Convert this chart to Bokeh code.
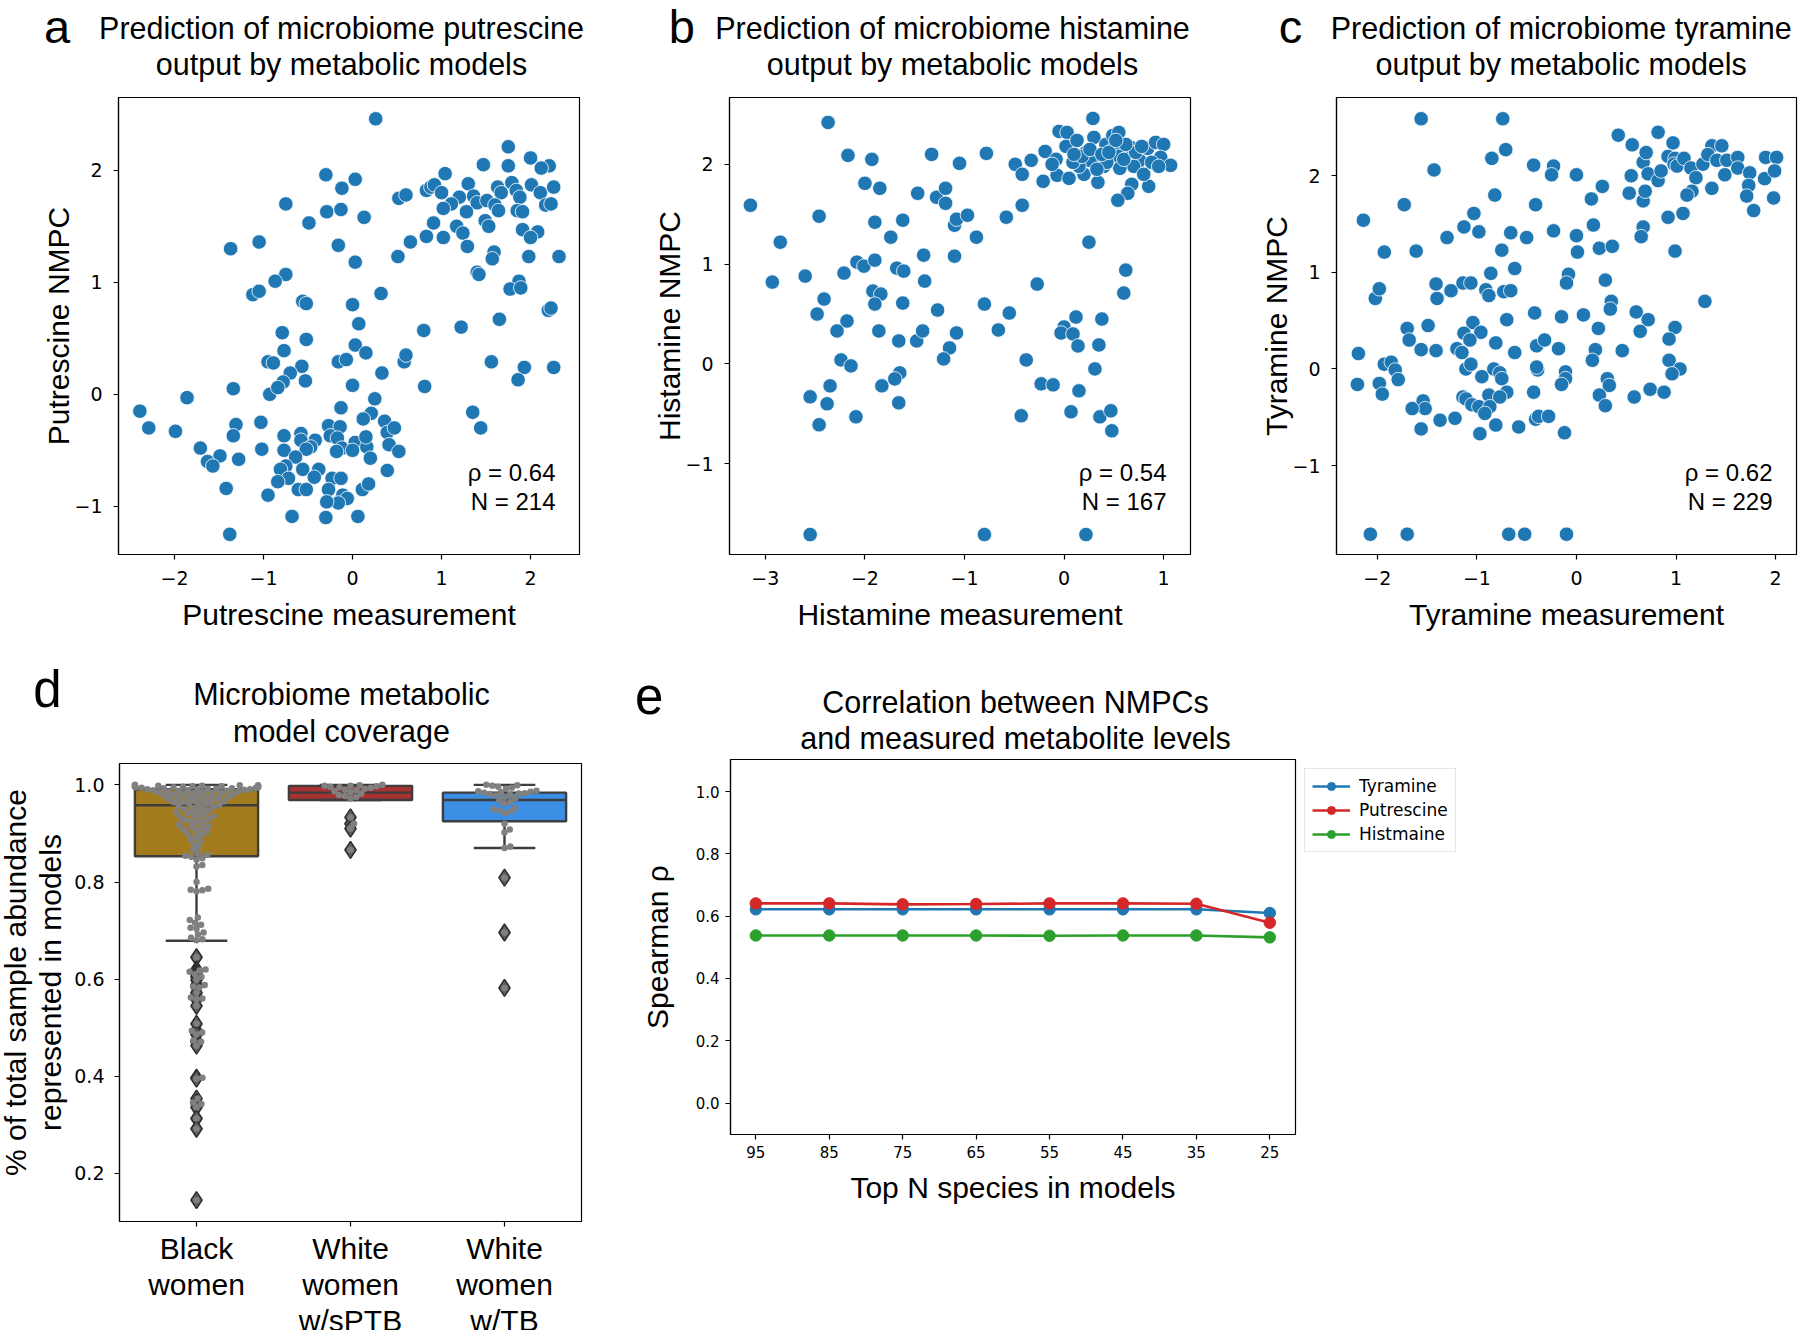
import math
from bokeh.plotting import figure
from bokeh.models import (Label, FixedTicker, Legend, LegendItem, Range1d,
                          PrintfTickFormatter, GlobalInlineStyleSheet)
from bokeh.layouts import row, column
from bokeh.embed import file_html
from bokeh.resources import INLINE

# ---------------- data ----------------
put_meas = [0.26, 1.75, 2.00, 2.21, 2.12, 1.47, -0.30, 0.03, 1.04, 1.75,
            -0.12, 1.30, 0.83, 0.88, 0.92, 1.00, 0.52, 0.60, 1.20, 1.36,
            1.63, 1.67, 1.79, 1.84, 2.01, 2.11, 2.26, 1.88, 1.11, 1.40,
            1.51, 1.60, 2.17, 2.23, -0.75, -0.29, -0.13, 0.13, -0.49, 1.02,
            1.28, 1.64, 1.85, 1.91, 0.91, 1.17, 1.49, 1.24, 1.53, 1.91,
            2.08, 2.00, 0.83, 1.02, 0.65, -1.05, -0.16, 1.29, -1.37, 1.59,
            0.51, 1.57, 1.98, 2.32, 0.03, 1.40, 1.42, -0.75, -0.87, 1.87,
            -1.12, -1.05, 0.32, 1.77, 1.89, 0.00, -0.56, -0.52, 2.20, 2.23,
            0.07, 1.65, -0.79, -0.52, 0.80, 1.22, -0.77, 0.03, 0.15, -0.95,
            -0.89, -0.57, -0.16, -0.07, 0.58, 0.60, -0.70, 0.33, 1.56, 1.93,
            2.26, 1.86, -0.78, -0.53, -1.34, -0.93, -0.84, 0.00, 0.81, -1.86,
            -2.39, -2.29, -1.99, 0.25, -0.13, 0.21, 0.12, 1.35, 1.44, -1.03,
            -1.31, -1.34, -0.27, -0.14, 0.36, 0.39, 0.47, -1.71, -1.49, -1.63,
            -1.57, -1.28, -1.02, -0.77, -0.58, -0.42, -0.58, -0.77, -0.47, -0.52,
            -0.64, -0.75, -0.81, -0.72, -0.84, -0.56, -0.38, -0.43, -0.25, -0.17,
            0.03, -0.12, -0.18, 0.00, 0.16, 0.15, 0.41, 0.52, 0.20, 0.39,
            -0.23, -0.13, -0.27, -0.61, -0.52, 0.11, 0.18, -0.11, -0.06, -0.16,
            -0.29, -0.95, -1.42, -0.68, -0.30, 0.06, -1.38]
put_nmpc = [2.46, 2.21, 2.11, 2.04, 2.02, 2.05, 1.96, 1.92, 1.97, 2.04,
            1.84, 1.88, 1.82, 1.85, 1.87, 1.80, 1.75, 1.78, 1.76, 1.77,
            1.85, 1.80, 1.89, 1.82, 1.87, 1.80, 1.85, 1.76, 1.70, 1.71,
            1.73, 1.69, 1.69, 1.70, 1.70, 1.63, 1.65, 1.58, 1.53, 1.66,
            1.63, 1.64, 1.64, 1.63, 1.53, 1.50, 1.55, 1.44, 1.50, 1.47,
            1.45, 1.40, 1.41, 1.40, 1.36, 1.36, 1.33, 1.32, 1.30, 1.27,
            1.23, 1.21, 1.23, 1.23, 1.18, 1.09, 1.07, 1.07, 1.01, 1.01,
            0.89, 0.92, 0.90, 0.94, 0.95, 0.80, 0.83, 0.81, 0.75, 0.77,
            0.63, 0.67, 0.55, 0.49, 0.57, 0.60, 0.39, 0.44, 0.37, 0.29,
            0.28, 0.25, 0.29, 0.31, 0.29, 0.35, 0.19, 0.19, 0.29, 0.24,
            0.24, 0.13, 0.11, 0.12, 0.05, 0.00, 0.06, 0.08, 0.07, -0.03,
            -0.15, -0.30, -0.33, -0.04, -0.12, -0.17, -0.22, -0.16, -0.30, -0.25,
            -0.27, -0.37, -0.28, -0.29, -0.24, -0.34, -0.30, -0.48, -0.55, -0.60,
            -0.64, -0.58, -0.49, -0.37, -0.35, -0.41, -0.41, -0.50, -0.47, -0.49,
            -0.56, -0.64, -0.67, -0.75, -0.78, -0.67, -0.67, -0.74, -0.37, -0.39,
            -0.43, -0.48, -0.51, -0.50, -0.47, -0.38, -0.45, -0.51, -0.57, -0.68,
            -0.75, -0.75, -0.85, -0.85, -0.85, -0.85, -0.80, -0.90, -0.93, -0.97,
            -0.96, -0.90, -0.84, -1.09, -1.10, -1.09, -1.25]

his_meas = [-2.37, -3.15, -2.46, -2.85, -2.93, -2.60, -2.41, -2.48, -2.17, -1.93,
            -2.00, -1.85, -1.90, -1.62, -1.74, -2.08, -2.01, -1.90, -2.21, -1.68,
            -1.61, -1.92, -1.84, -1.90, -1.62, -2.18, -2.28, -1.86, -2.24, -2.14,
            -2.35, -2.55, -2.38, -2.46, -2.09, -1.83, -1.65, -1.70, -1.66, -1.66,
            -1.48, -1.42, -1.47, -1.33, -1.28, -1.19, -1.19, -1.05, -1.41, -1.40,
            -1.27, -1.10, -1.10, -1.08, -0.97, -0.88, -1.15, -1.08, -1.21, -0.78,
            -0.80, -0.66, -0.55, -0.58, -0.49, -0.42, -0.42, -0.33, -0.19, -0.21,
            -0.08, -0.07, -0.05, 0.03, 0.02, 0.13, 0.22, 0.29, 0.30, 0.20,
            0.34, 0.34, 0.42, 0.49, 0.55, 0.50, 0.55, 0.67, 0.76, 0.84,
            0.92, 1.00, 0.97, 1.07, 0.85, 0.68, 0.64, 0.54, 0.26, 0.15,
            0.09, 0.40, 0.70, 0.80, 0.43, 0.56, 0.25, -0.27, 0.62, 0.60,
            0.12, 0.38, 0.00, -0.03, 0.09, 0.35, 0.14, -0.38, 0.31, -0.23,
            -0.11, 0.15, -0.43, 0.07, 0.36, 0.47, 0.48, -2.55, -0.80, 0.22,
            0.18, 0.26, 0.38, 0.45, 0.60, 0.72, 0.88, 0.95, 0.33, 0.10,
            0.62, 0.78, 0.52, 0.05, -0.12]
his_nmpc = [2.42, 1.59, 1.48, 1.22, 0.82, 0.88, 0.65, 0.50, 2.09, 2.05,
            1.81, 1.76, 1.42, 1.44, 1.27, 1.02, 0.98, 1.04, 0.91, 0.96,
            0.93, 0.73, 0.70, 0.60, 0.61, 0.43, 0.33, 0.33, 0.04, -0.02,
            -0.22, -0.33, -0.40, -0.61, -0.53, -0.22, -0.09, -0.15, -0.39, 0.23,
            0.23, 0.33, 1.71, 2.10, 1.67, 1.76, 1.61, 2.01, 1.09, 0.83,
            0.54, 1.08, 1.39, 1.45, 1.49, 1.27, 0.16, 0.31, 0.05, 2.11,
            0.60, 0.34, 0.51, 1.47, 2.00, 1.90, 1.59, 2.04, 2.13, 1.83,
            2.05, 1.89, 2.33, 2.32, 2.18, 2.24, 2.12, 2.46, 2.27, 1.90,
            1.98, 1.82, 2.20, 2.29, 2.32, 2.16, 2.08, 2.17, 2.04, 2.16,
            2.22, 2.20, 2.07, 1.99, 1.78, 1.80, 1.71, 1.64, 2.04, 1.98,
            2.02, 1.98, 1.98, 1.90, 2.02, 1.96, 1.22, 0.80, 0.94, 0.71,
            0.47, 0.45, 0.37, 0.31, 0.30, 0.19, 0.18, 0.04, -0.05, -0.20,
            -0.21, -0.27, -0.52, -0.48, -0.53, -0.47, -0.67, -1.71, -1.71, -1.71,
            2.08, 2.15, 2.10, 2.12, 2.05, 2.12, 2.02, 1.98, 1.95, 2.10,
            2.20, 2.18, 2.24, 1.86, 2.00]

tyr_meas = [-1.56, -0.74, -0.71, -0.85, -1.43, -0.82, -1.73, -2.14, -1.93, -1.61,
            -1.30, -1.13, -1.03, -0.98, -0.75, -0.66, -0.62, -0.50, -0.43, -0.41,
            -0.23, -0.25, 0.00, -0.23, 0.00, 0.01, 0.15, 0.26, 0.17, 0.23,
            0.36, 0.42, 0.56, 0.82, 0.97, 0.67, 0.70, 0.55, 0.53, 0.67,
            0.69, 0.72, 0.82, 0.85, 0.92, 0.99, 0.98, 1.01, 1.08, 1.15,
            1.20, 1.27, 1.16, 1.11, 1.36, 1.46, 1.32, 1.41, 1.51, 1.49,
            1.36, 1.62, 1.62, 1.74, 1.73, 1.71, 1.78, 1.90, 2.01, 1.89,
            1.99, 1.98, 0.92, 1.07, 0.67, 0.65, 0.99, 1.29, -2.02, -1.98,
            -1.41, -1.40, -1.26, -1.14, -1.06, -0.91, -0.88, -0.86, -0.73, -0.66,
            -0.70, -0.08, -0.10, 0.29, 0.35, 0.34, -0.42, -0.15, 0.07, 0.22,
            0.60, 0.72, 0.64, 0.99, 0.93, -1.49, -1.70, -1.68, -1.56, -1.41,
            -1.04, -0.96, -1.13, -1.07, -0.81, -0.40, -0.32, -0.18, -1.20, -1.15,
            -0.62, 0.19, 0.16, 0.46, 0.93, -2.19, -1.93, -1.86, -1.82, -1.79,
            -2.20, -1.98, -1.95, -1.11, -1.06, -0.83, -0.77, -0.75, -0.95, -0.39,
            -0.40, -0.11, -0.11, -0.15, 0.31, 0.33, 1.04, 0.96, 0.74, 0.88,
            0.58, 0.23, 0.29, -0.43, -0.70, -0.88, -0.77, -1.14, -1.11, -1.05,
            -0.98, -0.87, -0.92, -1.54, -1.52, -1.65, -1.37, -1.22, -1.56, -0.97,
            -0.81, -0.58, -0.41, -0.38, -0.28, -0.12, -2.07, -1.70, -0.68, -0.52, -0.10]
tyr_nmpc = [2.59, 2.59, 2.27, 2.18, 2.06, 1.80, 1.70, 1.54, 1.21, 1.22,
            1.36, 1.47, 1.61, 1.42, 1.23, 1.41, 1.04, 1.36, 2.11, 1.70,
            2.10, 2.01, 2.01, 1.43, 1.38, 1.21, 1.76, 1.89, 1.49, 1.25,
            1.27, 2.42, 2.32, 2.45, 2.34, 2.14, 2.24, 2.00, 1.82, 1.74,
            1.84, 2.02, 1.95, 2.05, 2.20, 2.18, 2.12, 2.10, 2.18, 2.08,
            1.98, 2.12, 1.84, 1.80, 2.31, 2.31, 2.22, 2.16, 2.16, 2.01,
            1.87, 2.19, 2.08, 2.03, 1.90, 1.79, 1.64, 2.19, 2.19, 1.97,
            2.05, 1.77, 1.57, 1.61, 1.47, 1.37, 1.22, 0.70, 0.73, 0.83,
            0.88, 0.73, 0.81, 0.89, 0.89, 0.82, 0.76, 0.99, 0.80, 0.81,
            0.51, 0.98, 0.89, 0.92, 0.70, 0.62, 0.58, 0.54, 0.56, 0.42,
            0.59, 0.51, 0.39, 0.43, 0.31, 0.45, 0.42, 0.30, 0.20, 0.19,
            0.48, 0.38, 0.37, 0.30, 0.27, 0.24, 0.30, 0.21, 0.21, 0.17,
            0.17, 0.20, 0.09, 0.19, 0.09, 0.16, 0.05, 0.07, -0.01, -0.11,
            -0.16, -0.15, -0.26, 0.00, 0.05, 0.00, -0.04, -0.10, -0.08, -0.01,
            0.02, -0.03, -0.10, -0.16, -0.10, -0.17, 0.00, -0.05, -0.21, -0.24,
            -0.29, -0.27, -0.38, -0.24, -0.24, -0.27, -0.29, -0.29, -0.31, -0.37,
            -0.39, -0.39, -0.46, -0.33, -0.41, -0.41, -0.53, -0.51, -0.62, -0.67,
            -0.58, -0.60, -0.52, -0.49, -0.49, -0.66, -1.71, -1.71, -1.71, -1.71, -1.71]

scatter_stats = [("\u03c1 = 0.64", "N = 214"), ("\u03c1 = 0.54", "N = 167"), ("\u03c1 = 0.62", "N = 229")]
scatter_titles = ["Prediction of microbiome putrescine", "Prediction of microbiome histamine",
                  "Prediction of microbiome tyramine"]

# panel d
groups = ["Black\nwomen", "White\nwomen\nw/sPTB", "White\nwomen\nw/TB"]
box_q1 = [0.853, 0.969, 0.925]
box_med = [0.958, 0.984, 0.969]
box_q3 = [0.991, 0.998, 0.984]
whisk_lo = [0.679, 0.969, 0.870]
whisk_hi = [1.000, 1.000, 1.000]
box_colors = ["#a37b1f", "#a83232", "#3a8ee3"]
black_vals = [1.000, 0.999, 0.999, 0.998, 0.998, 0.998, 0.997, 0.997, 0.997, 0.996,
              0.996, 0.995, 0.995, 0.995, 0.994, 0.994, 0.993, 0.993, 0.992, 0.992,
              0.991, 0.991, 0.990, 0.990, 0.989, 0.989, 0.988, 0.988, 0.987, 0.986,
              0.985, 0.985, 0.984, 0.983, 0.982, 0.981, 0.980, 0.979, 0.978, 0.977,
              0.976, 0.975, 0.974, 0.973, 0.972, 0.971, 0.970, 0.969, 0.968, 0.966,
              0.965, 0.964, 0.962, 0.961, 0.960, 0.958, 0.957, 0.955, 0.954, 0.952,
              0.950, 0.948, 0.946, 0.944, 0.942, 0.940, 0.938, 0.936, 0.934, 0.932,
              0.930, 0.928, 0.926, 0.923, 0.921, 0.918, 0.915, 0.913, 0.911, 0.909,
              0.906, 0.903, 0.900, 0.897, 0.893, 0.889, 0.884, 0.879, 0.872, 0.866,
              0.858, 0.856, 0.854, 0.852, 0.849, 0.846, 0.835, 0.832, 0.800, 0.786,
              0.784, 0.783, 0.781, 0.727, 0.722, 0.716, 0.712, 0.706, 0.704, 0.696,
              0.692, 0.685, 0.682, 0.680, 0.645, 0.620, 0.618, 0.615, 0.610, 0.605,
              0.598, 0.588, 0.585, 0.583, 0.572, 0.562, 0.560, 0.558, 0.545, 0.508,
              0.494, 0.490, 0.486, 0.474, 0.471, 0.463, 0.397, 0.395, 0.354, 0.346,
              0.343, 0.336, 0.313, 0.292, 0.145]
sptb_vals = [1.000, 0.999, 0.998, 0.998, 0.997, 0.996, 0.995, 0.994, 0.992, 0.990,
             0.989, 0.987, 0.985, 0.982, 0.979, 0.977, 0.975, 0.972, 0.933, 0.920,
             0.910, 0.866]
tb_vals = [1.000, 0.999, 0.998, 0.996, 0.994, 0.992, 0.988, 0.987, 0.986, 0.985,
           0.984, 0.983, 0.982, 0.981, 0.980, 0.978, 0.975, 0.972, 0.968, 0.965,
           0.962, 0.952, 0.950, 0.948, 0.945, 0.942, 0.920, 0.908, 0.902, 0.873,
           0.870, 0.809, 0.696, 0.582]
d_ticks = [0.2, 0.4, 0.6, 0.8, 1.0]
d_ylabel = ["% of total sample abundance", "represented in models"]

# panel e
top_n = ["95", "85", "75", "65", "55", "45", "35", "25"]
rho_tyramine = [0.622, 0.622, 0.622, 0.622, 0.622, 0.622, 0.622, 0.610]
rho_putrescine = [0.641, 0.641, 0.638, 0.639, 0.641, 0.641, 0.640, 0.579]
rho_histamine = [0.538, 0.538, 0.538, 0.538, 0.537, 0.538, 0.538, 0.532]
e_ticks = [0.0, 0.2, 0.4, 0.6, 0.8, 1.0]

# ---------------- styling helpers ----------------
SANS = "Liberation Sans"
TICKF = "DejaVu Sans"
BLUE = "#1f77b4"
TITLE_SIZE = "30.5px"
LABEL_SIZE = "30px"


def minus(v):
    return f"{v:g}".replace("-", "\u2212")


def new_fig(fw, fh, bl, br, bt, bb, xr, yr):
    p = figure(frame_width=fw, frame_height=fh, x_range=Range1d(*xr), y_range=Range1d(*yr),
               output_backend="svg", toolbar_location=None, title=None,
               min_border_left=bl, min_border_right=br, min_border_top=bt, min_border_bottom=bb)
    p.grid.visible = False
    p.outline_line_color = "black"
    p.outline_line_width = 1.2
    p.background_fill_color = "white"
    p.border_fill_color = "white"
    for ax in (p.xaxis[0], p.yaxis[0]):
        ax.axis_line_color = "black"
        ax.axis_line_width = 1.2
        ax.major_tick_line_color = "black"
        ax.major_tick_line_width = 1.2
        ax.major_tick_out = 5
        ax.major_tick_in = 0
        ax.minor_tick_line_color = None
        ax.major_label_text_font = TICKF
        ax.major_label_text_font_size = "19px"
        ax.major_label_text_color = "black"
        ax.major_label_standoff = 11
        ax.axis_label_text_font = SANS
        ax.axis_label_text_font_size = LABEL_SIZE
        ax.axis_label_text_font_style = "normal"
        ax.axis_label_text_color = "black"
    return p


def strip(w, h):
    p = figure(width=w, height=h, x_range=Range1d(0, w), y_range=Range1d(0, h),
               x_axis_type=None, y_axis_type=None, output_backend="svg",
               toolbar_location=None, title=None, min_border=0)
    p.grid.visible = False
    p.outline_line_color = None
    p.background_fill_color = "white"
    p.border_fill_color = "white"
    return p


def add_text(p, x, y, text, size=TITLE_SIZE, align="center", baseline="middle", font=SANS, angle=0.0):
    p.add_layout(Label(x=x, y=y, x_units="screen", y_units="screen", text=text,
                       text_font=font, text_font_size=size, text_align=align,
                       text_baseline=baseline, text_color="black", angle=angle))


# ---------------- header strip, row 1 ----------------
H1 = 90
s1 = strip(1800, H1)
for cx, lx, letter, t1 in [(341, 56.5, "a", scatter_titles[0]),
                           (952, 681.3, "b", scatter_titles[1]),
                           (1560.7, 1290, "c", scatter_titles[2])]:
    add_text(s1, cx, H1 - 27.8, t1)
    add_text(s1, cx, H1 - 63.3, "output by metabolic models")
    add_text(s1, lx, 64, letter, size="47px", baseline="alphabetic")

# ---------------- panels a, b, c ----------------
scatter_specs = [
    (put_meas, put_nmpc, (-2.63, 2.55), (-1.43, 2.65), [-2, -1, 0, 1, 2], [-1, 0, 1, 2],
     "Putrescine measurement", "Putrescine NMPC", 118, 21, 461),
    (his_meas, his_nmpc, (-3.36, 1.27), (-1.91, 2.67), [-3, -2, -1, 0, 1], [-1, 0, 1, 2],
     "Histamine measurement", "Histamine NMPC", 129, 15, 461),
    (tyr_meas, tyr_nmpc, (-2.41, 2.21), (-1.92, 2.81), [-2, -1, 0, 1, 2], [-1, 0, 1, 2],
     "Tyramine measurement", "Tyramine NMPC", 131, 4, 460),
]

top_figs = []
for i, (xs, ys, xr, yr, xt, yt, xl, yl, bl, br, fw) in enumerate(scatter_specs):
    p = new_fig(fw, 457, bl, br, 7, 96, xr, yr)
    p.xaxis.ticker = FixedTicker(ticks=xt)
    p.yaxis.ticker = FixedTicker(ticks=yt)
    p.xaxis.major_label_overrides = {t: minus(t) for t in xt}
    p.yaxis.major_label_overrides = {t: minus(t) for t in yt}
    p.xaxis.axis_label = xl
    p.yaxis.axis_label = yl
    p.xaxis.axis_label_standoff = 10
    p.yaxis.axis_label_standoff = -4
    p.scatter(xs, ys, size=14.5, fill_color=BLUE, line_color="white", line_width=0.8)
    add_text(p, fw - 24, 82.3, scatter_stats[i][0], size="24px", align="right", baseline="alphabetic")
    add_text(p, fw - 24, 53.3, scatter_stats[i][1], size="24px", align="right", baseline="alphabetic")
    top_figs.append(p)

# ---------------- header strip, row 2 ----------------
H2 = 105
s2 = strip(1800, H2)
add_text(s2, 341, 62, "Microbiome metabolic")
add_text(s2, 341, 25, "model coverage")
add_text(s2, 46.9, 66, "d", size="51px", baseline="alphabetic")
add_text(s2, 1015, 54, "Correlation between NMPCs")
add_text(s2, 1015, 18, "and measured metabolite levels")
add_text(s2, 648.8, 60, "e", size="51px", baseline="alphabetic")

# ---------------- panel d ----------------
# label strip (its frame gets aligned with panel d's frame inside the row)
LW, LH = 70, 580
sd = strip(LW, LH)
add_text(sd, 15, 234, d_ylabel[0], size=LABEL_SIZE, angle=math.pi / 2)
add_text(sd, 50, 234, d_ylabel[1], size=LABEL_SIZE, angle=math.pi / 2)

DW, DH = 462, 458
pd_ = new_fig(DW, DH, 119 - LW, 56, 8, 101, (-0.5, 2.5), (0.101, 1.044))
centers = list(range(len(groups)))
pd_.xaxis.ticker = FixedTicker(ticks=centers)
pd_.xaxis.major_label_overrides = {i: g for i, g in enumerate(groups)}
pd_.xaxis.major_label_text_font = SANS
pd_.xaxis.major_label_text_font_size = LABEL_SIZE
pd_.xaxis.major_label_text_line_height = 1.1
pd_.xaxis.major_label_standoff = 5
pd_.yaxis.ticker = FixedTicker(ticks=d_ticks)
pd_.yaxis.formatter = PrintfTickFormatter(format="%.1f")
pd_.yaxis.major_label_standoff = 10

pd_.vbar(x=centers, bottom=box_q1, top=box_q3, width=0.8, fill_color=box_colors,
         line_color="#3d3d3d", line_width=2.4)
pd_.segment(x0=centers, y0=box_q3, x1=centers, y1=whisk_hi, line_color="#3d3d3d", line_width=2.4)
pd_.segment(x0=centers, y0=box_q1, x1=centers, y1=whisk_lo, line_color="#3d3d3d", line_width=2.4)
pd_.segment(x0=[c - 0.2 for c in centers], y0=whisk_hi, x1=[c + 0.2 for c in centers], y1=whisk_hi,
            line_color="#3d3d3d", line_width=2.4)
pd_.segment(x0=[c - 0.2 for c in centers], y0=whisk_lo, x1=[c + 0.2 for c in centers], y1=whisk_lo,
            line_color="#3d3d3d", line_width=2.4)
pd_.segment(x0=[c - 0.4 for c in centers], y0=box_med, x1=[c + 0.4 for c in centers], y1=box_med,
            line_color="#3d3d3d", line_width=2.4)


def swarm_offsets(vals, ppu_x, ppu_y, diam, half_w):
    order = sorted(range(len(vals)), key=lambda k: vals[k])
    placed = []
    offs = [0.0] * len(vals)
    for k in order:
        y = vals[k] * ppu_y
        near = [(px, py) for px, py in placed if abs(py - y) < diam]
        cands = [0.0]
        for px, py in near:
            dx = math.sqrt(max(diam ** 2 - (py - y) ** 2, 0.0))
            cands += [px + dx, px - dx]
        cands.sort(key=abs)
        chosen = cands[-1]
        for c in cands:
            if all((c - px) ** 2 + (y - py) ** 2 >= diam ** 2 - 1e-6 for px, py in near):
                chosen = c
                break
        placed.append((chosen, y))
        offs[k] = max(-half_w, min(half_w, chosen / ppu_x))
    return offs


ppu_x = DW / 3.0
ppu_y = DH / (1.044 - 0.101)
all_groups = [black_vals, sptb_vals, tb_vals]
for gi, vals in enumerate(all_groups):
    out = [v for v in vals if v < whisk_lo[gi] or v > whisk_hi[gi]]
    if out:
        pd_.scatter([gi] * len(out), out, marker="diamond", size=17,
                    fill_color="#5e5e5e", line_color="#2e2e2e", line_width=1.5)
for gi, vals in enumerate(all_groups):
    offs = swarm_offsets(vals, ppu_x, ppu_y, 6.0, 0.4)
    pd_.scatter([gi + o for o in offs], vals, size=6.5, fill_color="#808080", line_color=None)

# ---------------- panel e ----------------
EW, EH = 565, 375
pe = new_fig(EW, EH, 92, 203, 4, 188, (-0.345, 7.35), (-0.101, 1.103))
xs_e = list(range(len(top_n)))
pe.xaxis.ticker = FixedTicker(ticks=xs_e)
pe.xaxis.major_label_overrides = {i: t for i, t in enumerate(top_n)}
pe.yaxis.ticker = FixedTicker(ticks=e_ticks)
pe.yaxis.formatter = PrintfTickFormatter(format="%.1f")
for ax in (pe.xaxis[0], pe.yaxis[0]):
    ax.major_label_text_font_size = "15px"
    ax.major_label_standoff = 6
pe.xaxis.axis_label = "Top N species in models"
pe.yaxis.axis_label = "Spearman \u03c1"
pe.xaxis.axis_label_standoff = 10
pe.yaxis.axis_label_standoff = 19

items = []
for name, vals, col in [("Tyramine", rho_tyramine, "#1f77b4"),
                        ("Putrescine", rho_putrescine, "#d62728"),
                        ("Histmaine", rho_histamine, "#2ca02c")]:
    lr = pe.line(xs_e, vals, line_color=col, line_width=2.6)
    sr = pe.scatter(xs_e, vals, size=11.5, fill_color=col, line_color=col)
    items.append(LegendItem(label=name, renderers=[lr, sr]))
leg = Legend(items=items, location="top_left")
leg.label_text_font = TICKF
leg.label_text_font_size = "17px"
leg.label_text_color = "black"
leg.border_line_color = "#cccccc"
leg.border_line_width = 1.2
leg.background_fill_color = "white"
leg.glyph_width = 38
leg.glyph_height = 20
leg.label_height = 20
leg.spacing = 4
leg.padding = 7
leg.margin = 9
leg.label_standoff = 9
pe.add_layout(leg, "right")

sheet = GlobalInlineStyleSheet(css="html, body { overflow: hidden; }")
layout = column(s1, row(*top_figs), s2, row(sd, pd_, column(pe)), stylesheets=[sheet])
open("out.html", "w").write(file_html(layout, INLINE))
